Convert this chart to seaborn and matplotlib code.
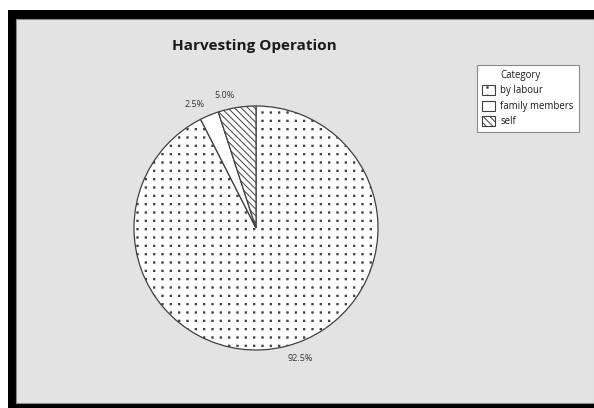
import matplotlib
matplotlib.use("Agg")
import warnings
import numpy as np
import matplotlib.pyplot as plt
import matplotlib.hatch as mhatch
from matplotlib.path import Path
from matplotlib.patches import Rectangle, Patch
import seaborn as sns

warnings.filterwarnings("ignore")

categories = ["by labour", "family members", "self"]
values = [92.5, 2.5, 5.0]
hatches = [",,", "", "\\" * 5]
title = "Harvesting Operation"
legend_title = "Category"


class GridDots(mhatch.HatchPatternBase):
    """Regular (non-staggered) grid of small square dots, hatch char ','."""

    def __init__(self, hatch, density):
        self.n = hatch.count(",") * density
        sq = Path.unit_rectangle()
        self.shape_vertices = sq.vertices - 0.5
        self.shape_codes = sq.codes
        self.num_vertices = self.n * self.n * len(sq.vertices) if self.n else 0

    def set_vertices_and_codes(self, vertices, codes):
        step = 1.0 / self.n
        sv = self.shape_vertices * step * 0.16
        vparts, cparts = [], []
        for i in range(self.n):
            for j in range(self.n):
                vparts.append(sv + [(i + 0.5) * step, (j + 0.5) * step])
                cparts.append(self.shape_codes)
        np.concatenate(vparts, out=vertices)
        np.concatenate(cparts, out=codes)


mhatch._hatch_types.append(GridDots)

sns.set_style("white")
plt.rcParams["font.family"] = ["Open Sans", "DejaVu Sans"]
plt.rcParams["hatch.linewidth"] = 0.7

W, H = 594, 408
fig = plt.figure(figsize=(W / 100, H / 100), dpi=100, facecolor="white")

# Border and background (Minitab-like)
fig.patches.append(Rectangle((8 / W, 0), 1 - 8 / W, 1 - 10 / H, transform=fig.transFigure,
                             facecolor="black", edgecolor="none", zorder=-10))
fig.patches.append(Rectangle((16 / W, 5 / H), 1 - 16 / W, 1 - 24 / H, transform=fig.transFigure,
                             facecolor="#e3e3e3", edgecolor="#8a8a8a", linewidth=0.8, zorder=-9))

cx, cy, r = 256, 228, 122
ax = fig.add_axes([(cx - r) / W, (H - cy - r) / H, 2 * r / W, 2 * r / H])
ax.set_facecolor("none")
ax.patch.set_alpha(0)

wedges, texts = ax.pie(values, startangle=90, counterclock=False,
                       colors=["white"] * len(values),
                       labels=[f"{v:.1f}%" for v in values],
                       labeldistance=1.1, radius=1,
                       wedgeprops=dict(edgecolor="#404040", linewidth=0.9),
                       textprops=dict(fontsize=6.5, color="#333333"))
for w, h in zip(wedges, hatches):
    w.set_hatch(h)
ax.set_xlim(-1, 1)
ax.set_ylim(-1, 1)
ax.set_aspect("equal")
ax.axis("off")

fig.text(254.5 / W, 1 - 46 / H, title, ha="center", va="center",
         fontsize=11, fontweight="bold", color="#1a1a1a")

handles = [Patch(visible=False)] + [
    Patch(facecolor="white", edgecolor="#404040", hatch=h, linewidth=0.8) for h in hatches]
labels = [legend_title] + categories
leg = fig.legend(handles, labels, loc="upper left",
                 bbox_to_anchor=(477 / W, 1 - 65 / H), bbox_transform=fig.transFigure,
                 borderaxespad=0, fontsize=6.9, frameon=True, fancybox=False, framealpha=1,
                 handlelength=1.35, handleheight=1.2, handletextpad=0.6,
                 labelspacing=0.45, borderpad=0.5)
leg.get_frame().set_edgecolor("#8a8a8a")
leg.get_frame().set_linewidth(0.8)
leg.get_frame().set_facecolor("white")
for t in leg.get_texts():
    t.set_color("#1a1a1a")

fig.savefig("out.png", dpi=100, facecolor="white")
